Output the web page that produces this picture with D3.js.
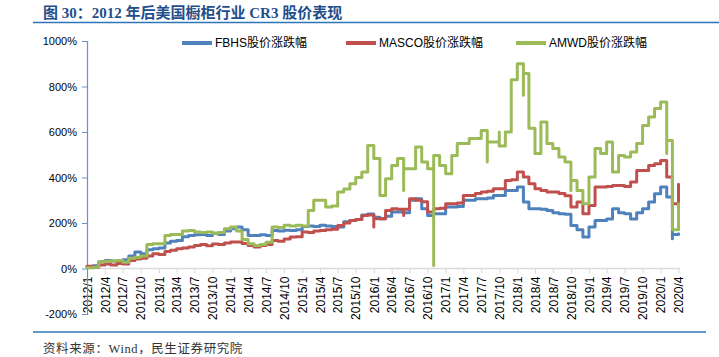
<!DOCTYPE html>
<html><head><meta charset="utf-8">
<script src="https://cdn.jsdelivr.net/npm/d3@7"></script>
<style>
html,body{margin:0;padding:0;background:#fff;}
svg{display:block;}
</style></head>
<body>
<svg id="chart" width="719" height="357"></svg>
<script>
const titleText = "图 30：2012 年后美国橱柜行业 CR3 股价表现";
const sourceText = "资料来源：Wind，民生证券研究院";
const seriesNames = ["FBHS股价涨跌幅", "MASCO股价涨跌幅", "AMWD股价涨跌幅"];
const yTicks = [-200, 0, 200, 400, 600, 800, 1000];
const xTickLabels = ["2012/1","2012/4","2012/7","2012/10","2013/1","2013/4","2013/7","2013/10",
  "2014/1","2014/4","2014/7","2014/10","2015/1","2015/4","2015/7","2015/10",
  "2016/1","2016/4","2016/7","2016/10","2017/1","2017/4","2017/7","2017/10",
  "2018/1","2018/4","2018/7","2018/10","2019/1","2019/4","2019/7","2019/10",
  "2020/1","2020/4"];
// monthly values (%), 2012/1 .. 2020/4; sub-arrays = several readings within one month
const fbhs = [8,12,30,35,33,30,38,55,72,65,82,87,90,112,120,123,140,145,148,150,145,155,150,165,175,182,170,145,145,148,
  145,167,165,168,167,170,185,187,185,190,187,185,182,205,211,215,235,240,225,219,230,248,248,245,300,307,263,233,241,241,
  270,270,272,300,300,307,307,310,321,321,343,343,358,292,263,263,260,255,245,241,238,[226,189],170,138,182,211,211,218,263,245,
  241,218,245,263,292,329,358,314,[131,150],153];
const masco = [10,5,15,20,15,22,20,35,42,45,55,65,62,75,80,87,90,95,101,105,100,108,105,112,116,116,110,101,95,101,
  105,123,120,130,138,140,160,158,165,167,170,172,189,200,211,215,233,235,[182,219],219,255,263,260,[233,260],307,300,293,248,263,265,
  285,285,288,321,321,330,336,340,351,351,387,390,424,402,373,351,343,336,336,330,320,[277,270],292,241,277,358,358,360,365,365,
  360,380,431,431,453,460,475,402,285,370];
const amwd = [3,5,30,32,33,35,28,45,50,55,105,109,109,145,150,150,165,167,160,158,160,155,158,175,182,165,127,109,101,105,
  115,182,180,190,187,190,187,255,300,300,270,275,336,350,373,400,424,[497,541],483,[387,321],394,453,483,[343,439],439,534,468,439,[439,13,497],453,
  417,497,549,549,571,571,607,[468,556],556,[600,538],600,830,900,[880,761,857],[830,616],[607,505],644,549,527,490,468,[343,387],343,285,402,527,505,556,424,497,
  490,512,549,629,666,703,732,[505,563],170,[285,180]];
const colors = ["#4F81BD", "#C0504D", "#9BBB59"];

const svg = d3.select("#chart");
const months = d3.timeMonth.range(new Date(2012,0,1), new Date(2020,4,1));
const x = d3.scaleTime().domain([new Date(2012,0,1), new Date(2020,3,1)]).range([87, 678.5]);
const y = d3.scaleLinear().domain([-200, 1000]).range([314, 41]);

// title
svg.append("text").attr("x", 43).attr("y", 18)
  .attr("font-family", "'Liberation Serif','Noto Sans CJK SC',serif")
  .attr("font-weight", "bold").attr("font-size", 15).attr("fill", "#1F4E8C")
  .text(titleText);
svg.append("line").attr("x1", 33).attr("x2", 719).attr("y1", 22.5).attr("y2", 22.5)
  .attr("stroke", "#2E75B6").attr("stroke-width", 1.5);
svg.append("line").attr("x1", 33).attr("x2", 706).attr("y1", 332).attr("y2", 332)
  .attr("stroke", "#2E75B6").attr("stroke-width", 1.5);
svg.append("text").attr("x", 43).attr("y", 353)
  .attr("font-family", "'Liberation Serif','Noto Sans CJK SC',serif")
  .attr("font-size", 12.5).attr("letter-spacing", 0.6).attr("fill", "#333")
  .text(sourceText);

// x axis at 0%
const xAxis = d3.axisBottom(x)
  .tickValues(xTickLabels.map(s => { const [yy, mm] = s.split("/").map(Number); return new Date(yy, mm-1, 1); }))
  .tickSize(5).tickFormat((d, i) => xTickLabels[i]);
const gx = svg.append("g").attr("transform", `translate(0,${y(0)})`).call(xAxis);
gx.select(".domain").attr("stroke", "#D9D9D9").attr("stroke-width", 1.5).attr("d", `M${x.range()[0]},0H680`);
gx.selectAll(".tick line").attr("stroke", "#D9D9D9");
gx.selectAll(".tick text")
  .attr("font-family", "'Liberation Sans',Arial,sans-serif").attr("font-size", 12).attr("fill", "#000")
  .attr("text-anchor", "end").attr("transform", "rotate(-90)")
  .attr("x", -8).attr("y", 0).attr("dy", "0.35em");

// y axis
const yAxis = d3.axisLeft(y).tickValues(yTicks).tickSize(5).tickFormat(d => d + "%");
const gy = svg.append("g").attr("transform", `translate(${x.range()[0]},0)`).call(yAxis);
gy.select(".domain").attr("stroke", "#6A93CC").attr("stroke-width", 1.2);
gy.selectAll(".tick line").attr("stroke", "#6A93CC");
gy.selectAll(".tick text").attr("font-family", "'Liberation Sans',Arial,sans-serif")
  .attr("font-size", 11).attr("fill", "#000").attr("x", -10);

// lines
const line = d3.line().x(d => x(d.date)).y(d => y(d.v)).curve(d3.curveStepAfter);
[fbhs, masco, amwd].forEach((arr, i) => {
  const pts = [];
  arr.forEach((v, m) => { [].concat(v).forEach(val => pts.push({date: months[m], v: val})); });
  svg.append("path").datum(pts).attr("d", line)
    .attr("fill", "none").attr("stroke", colors[i]).attr("stroke-width", 3)
    .attr("stroke-linejoin", "round").attr("stroke-linecap", "round");
});

// legend
const legendX = [182, 346, 516];
seriesNames.forEach((name, i) => {
  const g = svg.append("g").attr("transform", `translate(${legendX[i]},43)`);
  g.append("line").attr("x1", 0).attr("x2", 30).attr("y1", 0).attr("y2", 0)
    .attr("stroke", colors[i]).attr("stroke-width", 4);
  g.append("text").attr("x", 33).attr("y", 0).attr("dy", "0.35em")
    .attr("font-family", "'Liberation Sans','Noto Sans CJK SC',sans-serif")
    .attr("font-size", 12).attr("fill", "#000").text(name);
});
</script>
</body></html>
